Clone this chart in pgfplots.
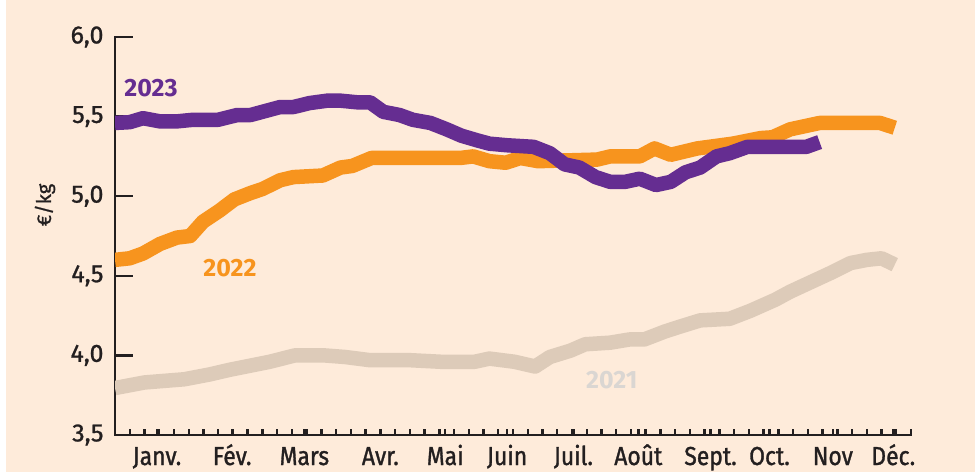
\documentclass[border=0pt]{standalone}
\usepackage{pgfplots}
\pgfplotsset{compat=1.18}
\usepackage{fontspec}
\setmainfont{Fira Sans}
\newfontfamily\monthfont[FakeStretch=0.88,FakeBold=1.2]{Fira Sans}
\newfontfamily\numfont[FakeBold=1.0]{Fira Sans}
\definecolor{bg}{HTML}{FEEBDA}
\definecolor{c23}{HTML}{652D91}
\definecolor{c22}{HTML}{F7941E}
\definecolor{c21}{HTML}{DDCBB9}
\definecolor{t21}{RGB}{218,214,210}
\definecolor{ax}{HTML}{231F20}
\begin{document}
\begin{tikzpicture}
\useasboundingbox (0,0) rectangle (975bp,472bp);
\fill[white] (0,0) rectangle (975bp,472bp);
\fill[bg] (6bp,0) rectangle (975bp,472bp);
\begin{axis}[
  at={(115bp,37bp)}, anchor=origin,
  scale only axis, width=796bp, height=398bp,
  xmin=0, xmax=54, ymin=3.5, ymax=6.0,
  axis x line*=bottom, axis y line*=left,
  axis line style={ax, line width=2.4bp, line cap=rect},
  xtick={0,1,...,54}, xticklabels={},
  ytick={3.5,4.0,4.5,5.0,5.5,6.0},
  tick align=inside,
  tick style={ax, line width=2.4bp},
  xtick style={/pgfplots/major tick length=6bp},
  ytick style={/pgfplots/major tick length=18bp},
  yticklabel style={font=\numfont\fontsize{25bp}{28bp}\selectfont, text=ax, xshift=-8bp},
  /pgf/number format/assume math mode=true,
  /pgf/number format/.cd, use comma, fixed, fixed zerofill, precision=1,
  /pgfplots/.cd,
  extra x ticks={2.85,7.95,12.85,18.0,22.4,26.6,31.1,35.5,40.4,44.4,48.7,52.8},
  extra x tick labels={Janv.,Fév.,Mars,Avr.,Mai,Juin,Juil.,Août,Sept.,Oct.,Nov,Déc.},
  extra x tick style={/pgfplots/major tick length=0pt, tick label style={font=\monthfont\fontsize{26bp}{29bp}\selectfont, text=ax, anchor=base, yshift=-30bp}},
  every axis plot/.append style={line width=14.5bp, line join=round, line cap=butt},
]
% 2021
\addplot[c21] coordinates {
(0,3.795)(2.0,3.83)(4.7,3.85)(6.4,3.88)(7.8,3.91)(10.5,3.96)(12.2,4.00)(14.2,4.00)
(15.6,3.99)(17.3,3.97)(20.0,3.97)(22.1,3.96)(24.4,3.96)(25.4,3.98)(27.1,3.96)(28.5,3.93)
(29.5,3.99)(30.9,4.03)(31.9,4.07)(33.6,4.08)(34.9,4.10)(35.9,4.10)(37.3,4.15)(38.3,4.18)
(39.7,4.22)(41.7,4.23)(43.1,4.28)(44.8,4.35)(45.8,4.40)(47.2,4.46)(48.6,4.52)(49.9,4.58)
(51.0,4.60)(52.0,4.61)(52.9,4.57)};
% 2022
\addplot[c22] coordinates {
(0,4.60)(1.0,4.61)(1.9,4.64)(3.05,4.70)(4.2,4.74)(5.1,4.75)(5.97,4.84)(7.1,4.91)
(8.1,4.98)(9.2,5.02)(10.0,5.045)(11.2,5.10)(12.1,5.12)(14.1,5.13)(15.3,5.18)(16.1,5.19)
(17.4,5.24)(23.4,5.24)(24.3,5.25)(25.4,5.22)(26.5,5.21)(27.5,5.24)(28.7,5.22)(32.7,5.23)
(33.6,5.25)(35.6,5.25)(36.6,5.30)(37.7,5.26)(39.5,5.30)(41.9,5.33)(43.8,5.365)(44.6,5.37)
(45.8,5.42)(47.8,5.46)(51.9,5.46)(52.9,5.43)};
% 2023
\addplot[c23] coordinates {
(0,5.46)(1.0,5.465)(1.9,5.49)(3.05,5.47)(4.2,5.47)(5.3,5.48)(7.0,5.48)(8.3,5.51)
(9.2,5.51)(10.0,5.53)(11.2,5.56)(12.1,5.56)(13.2,5.585)(14.4,5.60)(15.3,5.60)(16.4,5.59)
(17.3,5.59)(18.2,5.53)(19.3,5.51)(20.2,5.48)(21.4,5.46)(22.5,5.42)(23.5,5.38)(24.6,5.35)
(25.4,5.33)(26.6,5.32)(28.4,5.31)(29.5,5.27)(30.5,5.20)(31.5,5.18)(32.6,5.12)(33.6,5.09)
(34.6,5.09)(35.6,5.11)(36.7,5.07)(37.7,5.09)(38.7,5.15)(39.7,5.18)(40.8,5.25)(41.7,5.27)
(42.9,5.31)(46.9,5.31)(47.8,5.34)};
\node[font=\bfseries\fontsize{25bp}{28bp}\selectfont, text=c23] at (axis cs:2.44,5.68) {2023};
\node[font=\bfseries\fontsize{25bp}{28bp}\selectfont, text=c22] at (axis cs:7.8,4.55) {2022};
\node[font=\bfseries\fontsize{25bp}{28bp}\selectfont, text=t21] at (axis cs:33.7,3.845) {2021};
\end{axis}
\node[font=\numfont\fontsize{20bp}{22bp}\selectfont, text=ax, rotate=90] at (45bp,267bp) {€/kg};
\end{tikzpicture}
\end{document}
